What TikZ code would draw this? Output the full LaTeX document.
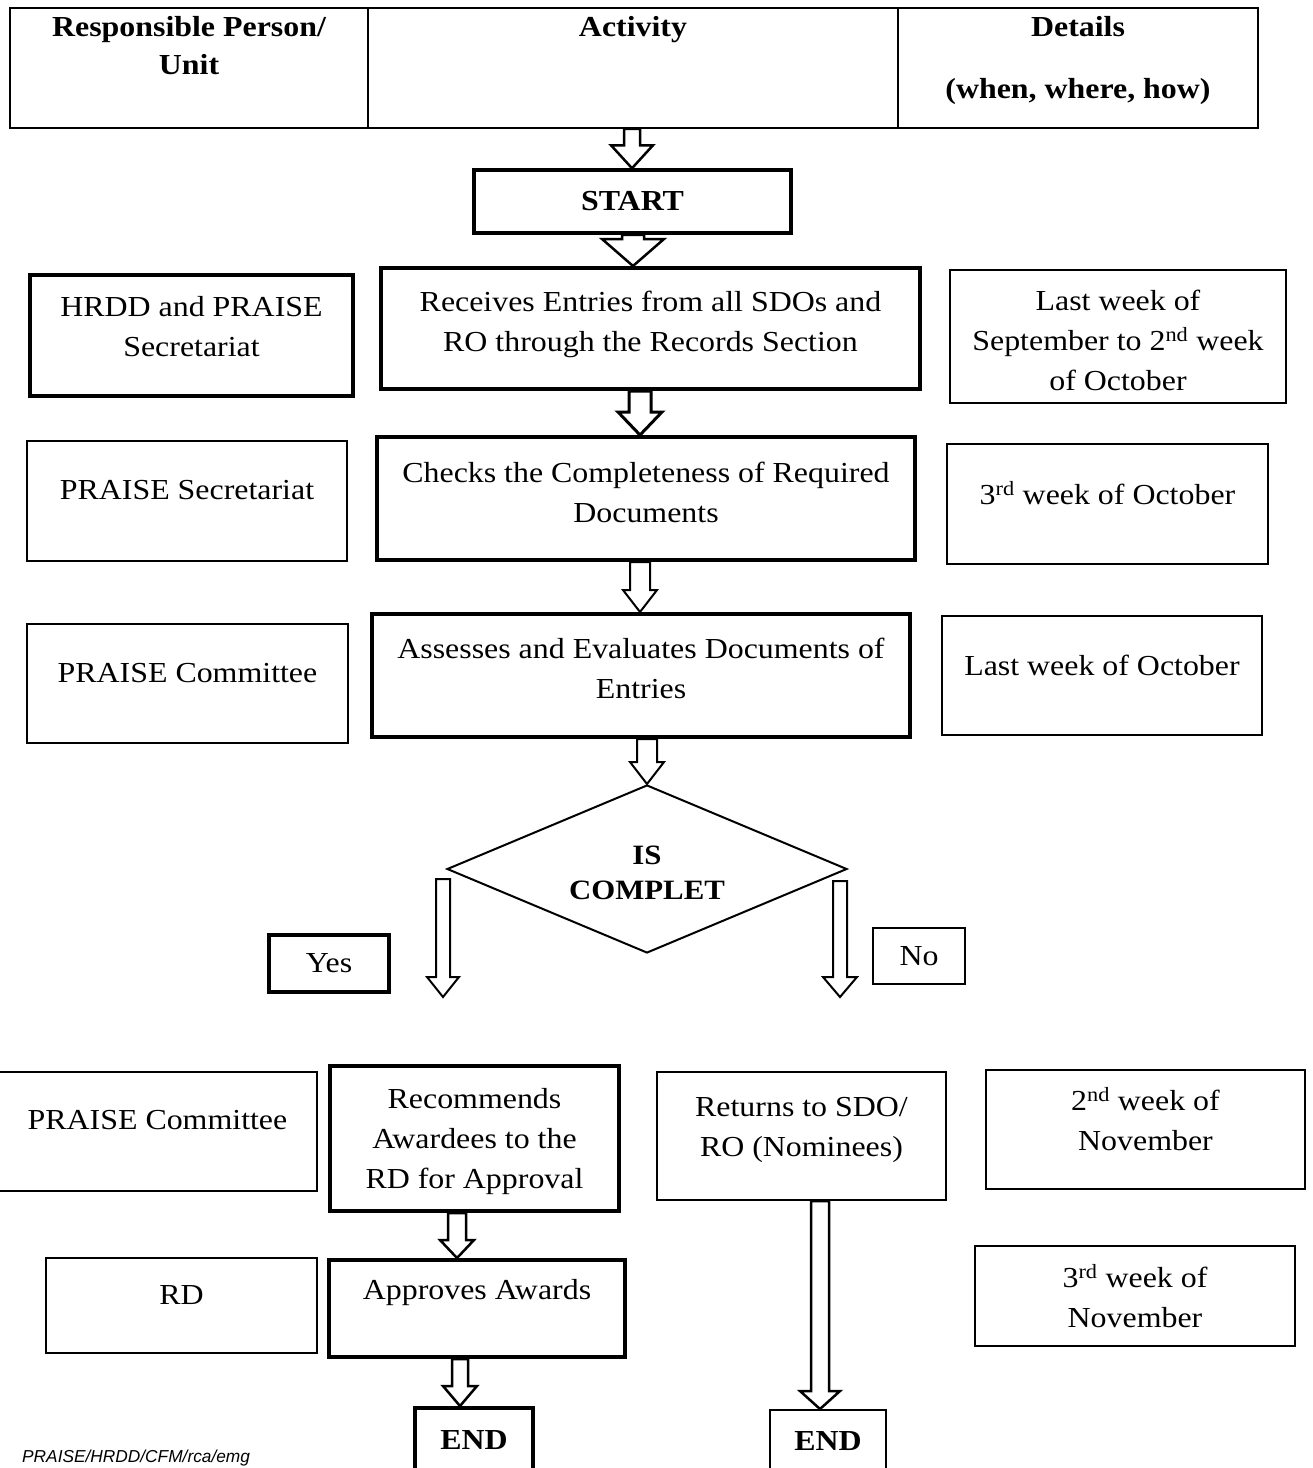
\documentclass[tikz,border=0pt]{standalone}
\usepackage{fontspec}
\setmainfont{Liberation Serif}[FakeStretch=1.1]
\newfontfamily\footfont{Liberation Sans}
\usetikzlibrary{calc,shapes.geometric}
\newcommand\bodyfont{\fontsize{29}{40}\selectfont}
\newcommand\headfont{\bfseries\fontsize{29}{38}\selectfont}
% #1 x, #2 from, #3 to, #4 shaft half-width, #5 head half-width, #6 head length, #7 line width
\newcommand\blkarrow[7]{%
  \draw[line width=#7, fill=white, line join=miter]
    let \p1=#2, \p2=#3 in
    (#1pt-#4pt,\y1) -- (#1pt-#4pt,\y2+#6pt) -- (#1pt-#5pt,\y2+#6pt) -- (#1pt,\y2)
    -- (#1pt+#5pt,\y2+#6pt) -- (#1pt+#4pt,\y2+#6pt) -- (#1pt+#4pt,\y1) -- cycle;}
\begin{document}
\begin{tikzpicture}[x=1pt,y=-1pt,
  tbox/.style={draw, line width=2pt, align=center, inner sep=0pt, font=\bodyfont},
  kbox/.style={draw, line width=4pt, align=center, inner sep=0pt, font=\bodyfont},
  lbl/.style={align=center, inner sep=0pt, font=\bodyfont},
  hcell/.style={draw, line width=1.8pt, inner sep=0pt, minimum height=120pt},
  htext/.style={anchor=north, align=center, inner sep=0pt, font=\headfont},
  dec/.style={draw, line width=2pt, shape=diamond, aspect=2.38, inner sep=0pt, align=center,
    font=\bfseries\fontsize{29}{35}\selectfont}]
\useasboundingbox (0,0) rectangle (1313,1468);
\clip (0,0) rectangle (1313,1468);
\fill[white] (0,0) rectangle (1313,1468);

% header
\node[hcell, minimum width=358pt] (h1) at (189,68) {};
\node[hcell, minimum width=530pt] (h2) at (633,68) {};
\node[hcell, minimum width=360pt] (h3) at (1078,68) {};
\node[htext] (t1) at (189,16) {Responsible Person/\\Unit};
\node[htext] (t2) at (633,16) {Activity};
\node[htext] (t3) at (1078,16) {Details\\[24pt](when, where, how)};

% boxes
\node[kbox, minimum width=317pt, minimum height=63pt, line width=3.5pt,
  font=\bfseries\fontsize{29}{40}\selectfont] (start) at (632.5,201.5) {START};

\node[kbox, minimum width=323pt, minimum height=121pt,
  label={[lbl,yshift=8.5pt]center:{HRDD and PRAISE\\Secretariat}}] (hrdd) at (191.5,335.5) {};
\node[kbox, minimum width=539pt, minimum height=121pt,
  label={[lbl,yshift=4.5pt]center:{Receives Entries from all SDOs and\\RO through the Records Section}}] (recv) at (650.5,328.5) {};
\node[tbox, minimum width=336pt, minimum height=133pt,
  label={[lbl,yshift=-4pt]center:{Last week of\\September to 2\textsuperscript{nd} week\\of October}}] (d1) at (1118,336.5) {};

\node[tbox, minimum width=320pt, minimum height=120pt,
  label={[lbl,yshift=11pt]center:{PRAISE Secretariat}}] (psec) at (187,501) {};
\node[kbox, minimum width=538pt, minimum height=123pt,
  label={[lbl,yshift=6.5pt]center:{Checks the Completeness of Required\\Documents}}] (check) at (646,498.5) {};
\node[tbox, minimum width=321pt, minimum height=120pt,
  label={[lbl,yshift=11pt]center:{3\textsuperscript{rd} week of October}}] (d2) at (1107.5,504) {};

\node[tbox, minimum width=321pt, minimum height=119pt,
  label={[lbl,yshift=10.5pt]center:{PRAISE Committee}}] (pcom) at (187.5,683.5) {};
\node[kbox, minimum width=538pt, minimum height=123pt,
  label={[lbl,yshift=7.5pt]center:{Assesses and Evaluates Documents of\\Entries}}] (assess) at (641,675.5) {};
\node[tbox, minimum width=320pt, minimum height=119pt,
  label={[lbl,yshift=10.5pt]center:{Last week of October}}] (d3) at (1102,675.5) {};

\node[dec, minimum width=400pt, minimum height=168pt,
  label={[lbl,yshift=-3.5pt,font=\bfseries\fontsize{28}{35}\selectfont]center:{IS\\COMPLET}}] (dia) at (647,869) {};

\node[kbox, minimum width=120pt, minimum height=57pt] (yes) at (329,963.5) {Yes};
\node[tbox, minimum width=92pt, minimum height=56pt] (no) at (919,956) {No};

\node[tbox, minimum width=319pt, minimum height=119pt,
  label={[lbl,yshift=11.5pt]center:{PRAISE Committee}}] (pcom2) at (157.5,1131.5) {};
\node[kbox, minimum width=289pt, minimum height=145pt,
  label={[lbl,yshift=-3.5pt]center:{Recommends\\Awardees to the\\RD for Approval}}] (recom) at (474.5,1138.5) {};
\node[tbox, minimum width=289pt, minimum height=128pt,
  label={[lbl,yshift=6pt]center:{Returns to SDO/\\RO (Nominees)}}] (ret) at (801.5,1136) {};
\node[tbox, minimum width=319pt, minimum height=119pt,
  label={[lbl,yshift=10pt]center:{2\textsuperscript{nd} week of\\November}}] (d4) at (1145.5,1129.5) {};

\node[tbox, minimum width=271pt, minimum height=95pt,
  label={[lbl,yshift=10pt]center:{RD}}] (rd) at (181.5,1305.5) {};
\node[kbox, minimum width=296pt, minimum height=97pt,
  label={[lbl,yshift=16pt]center:{Approves Awards}}] (appr) at (477,1308.5) {};
\node[tbox, minimum width=320pt, minimum height=100pt] (d5) at (1135,1296) {3\textsuperscript{rd} week of\\November};

\node[kbox, minimum width=118pt, minimum height=64pt,
  font=\bfseries\fontsize{29}{40}\selectfont] (end1) at (474,1440) {END};
\node[tbox, minimum width=116pt, minimum height=62pt,
  font=\bfseries\fontsize{29}{40}\selectfont] (end2) at (828,1441) {END};

\node[anchor=base west, inner sep=0pt, font=\footfont\itshape\fontsize{17.3}{20}\selectfont]
  (foot) at (22,1462) {PRAISE/HRDD/CFM/rca/emg};

% free ends of the branch arrows
\coordinate (lt) at (443,997);
\coordinate (rt) at (840,997);

% block arrows
\blkarrow{632}{(h2.south)}{(start.north)}{8}{21}{23}{2.5pt}
\blkarrow{633}{(start.south)}{(recv.north)}{11}{31}{27}{2.5pt}
\blkarrow{640}{(recv.south)}{(check.north)}{11}{22}{23}{3pt}
\blkarrow{640}{(check.south)}{(assess.north)}{10}{17}{22}{2pt}
\blkarrow{647}{(assess.south)}{(dia.north)}{10}{17}{22}{2pt}
\blkarrow{443}{($(dia.west)+(0,10)$)}{(lt)}{7}{16}{20}{2pt}
\blkarrow{840}{($(dia.east)+(0,12)$)}{(rt)}{7}{17}{20}{2pt}
\blkarrow{457}{(recom.south)}{(appr.north)}{9}{17}{18}{2.5pt}
\blkarrow{460}{(appr.south)}{(end1.north)}{8}{17}{20}{2.5pt}
\blkarrow{820}{(ret.south)}{(end2.north)}{9}{20}{18}{2.5pt}
\end{tikzpicture}
\end{document}
